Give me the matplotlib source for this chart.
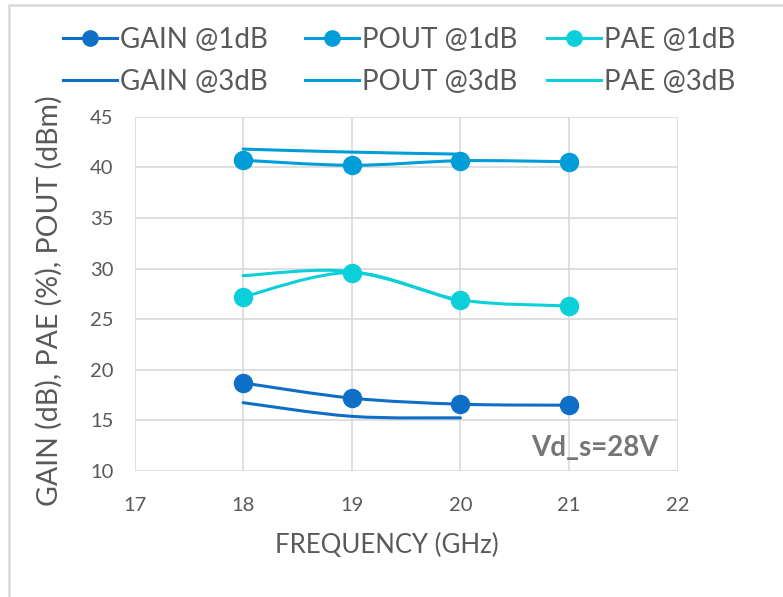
import matplotlib
matplotlib.use("Agg")
import matplotlib.pyplot as plt
from matplotlib.path import Path
from matplotlib.patches import PathPatch, Rectangle
from matplotlib.lines import Line2D
import numpy as np

plt.rcParams['font.family'] = ['Lato', 'DejaVu Sans']

freq_1db = [18, 19, 20, 21]
freq_3db = [18, 19, 20]
gain_1db = [18.7, 17.2, 16.6, 16.5]
pout_1db = [40.7, 40.2, 40.65, 40.55]
pae_1db = [27.2, 29.6, 26.9, 26.3]
gain_3db = [16.75, 15.4, 15.25]
pout_3db = [41.8, 41.5, 41.3]
pae_3db = [29.3, 29.7, 26.7]

x_ticks = [17, 18, 19, 20, 21, 22]
y_ticks = [10, 15, 20, 25, 30, 35, 40, 45]

C_GAIN = '#0F6FC6'
C_POUT = '#009DD9'
C_PAE = '#0BD0D9'
TXT = '#595959'
GRID = '#D9D9D9'

W, H = 783, 597
fig = plt.figure(figsize=(W / 100, H / 100), dpi=100)
ax = fig.add_axes([134.5 / W, 1 - 471 / H, (677.7 - 134.5) / W, (471 - 116.7) / H])

def smooth_path(xs, ys):
    xs = np.asarray(xs, float)
    ys = np.asarray(ys, float)
    n = len(xs)
    verts = [(xs[0], ys[0])]
    codes = [Path.MOVETO]
    for i in range(n - 1):
        i0 = max(i - 1, 0)
        i3 = min(i + 2, n - 1)
        c1 = (xs[i] + (xs[i + 1] - xs[i0]) / 6, ys[i] + (ys[i + 1] - ys[i0]) / 6)
        c2 = (xs[i + 1] - (xs[i3] - xs[i]) / 6, ys[i + 1] - (ys[i3] - ys[i]) / 6)
        verts += [c1, c2, (xs[i + 1], ys[i + 1])]
        codes += [Path.CURVE4] * 3
    return Path(verts, codes)

lw = 2.2
series = [
    (freq_3db, gain_3db, C_GAIN, False),
    (freq_3db, pout_3db, C_POUT, False),
    (freq_3db, pae_3db, C_PAE, False),
    (freq_1db, gain_1db, C_GAIN, True),
    (freq_1db, pout_1db, C_POUT, True),
    (freq_1db, pae_1db, C_PAE, True),
]
for xs, ys, c, mk in series:
    ax.add_patch(PathPatch(smooth_path(xs, ys), fill=False, edgecolor=c, lw=lw,
                           capstyle='round', joinstyle='round', zorder=3))
    if mk:
        ax.plot(xs, ys, linestyle='none', marker='o', markersize=13,
                color=c, zorder=4)

ax.set_xlim(17, 22)
ax.set_ylim(10, 45)
ax.set_xticks(x_ticks)
ax.set_yticks(y_ticks)
ax.grid(True, color=GRID, lw=1.2)
ax.set_axisbelow(True)
for s in ax.spines.values():
    s.set_visible(False)
ax.tick_params(length=0, labelsize=14.5, labelcolor=TXT)
ax.tick_params(axis='y', pad=15)
ax.tick_params(axis='x', pad=19)

fig.text(387 / W, 1 - 545 / H, 'FREQUENCY (GHz)', ha='center', va='center',
         fontsize=18.5, color=TXT)
fig.text(49 / W, 1 - 301 / H, 'GAIN (dB), PAE (%), POUT (dBm)', ha='center',
         va='center', rotation=90, fontsize=20.5, color=TXT)
fig.text(595 / W, 1 - 447.5 / H, 'Vd_s=28V', ha='center', va='center',
         fontsize=20, fontweight='bold', color='#767676')

labels = ['GAIN @1dB', 'GAIN @3dB', 'POUT @1dB', 'POUT @3dB', 'PAE @1dB', 'PAE @3dB']
colors = [C_GAIN, C_POUT, C_PAE]
col_x = [63, 305, 547]
leg_fs = 20
for k, (c, x0) in enumerate(zip(colors, col_x)):
    hs = [Line2D([], [], color=c, lw=lw, marker='o', markersize=11),
          Line2D([], [], color=c, lw=lw)]
    leg = fig.legend(hs, labels[2 * k:2 * k + 2], loc='center left',
                     bbox_to_anchor=(x0 / W, 1 - 61 / H), frameon=False,
                     fontsize=leg_fs, handlelength=54 / (leg_fs * 100 / 72),
                     handletextpad=0.12, labelspacing=0.58, borderpad=0,
                     borderaxespad=0)
    for t in leg.get_texts():
        t.set_color(TXT)

fig.add_artist(Rectangle((9 / W, -0.1), 1.2, 1 - 5 / H + 0.1, transform=fig.transFigure,
                         fill=False, edgecolor=GRID, lw=1.8))

fig.savefig('out.png', dpi=100)
